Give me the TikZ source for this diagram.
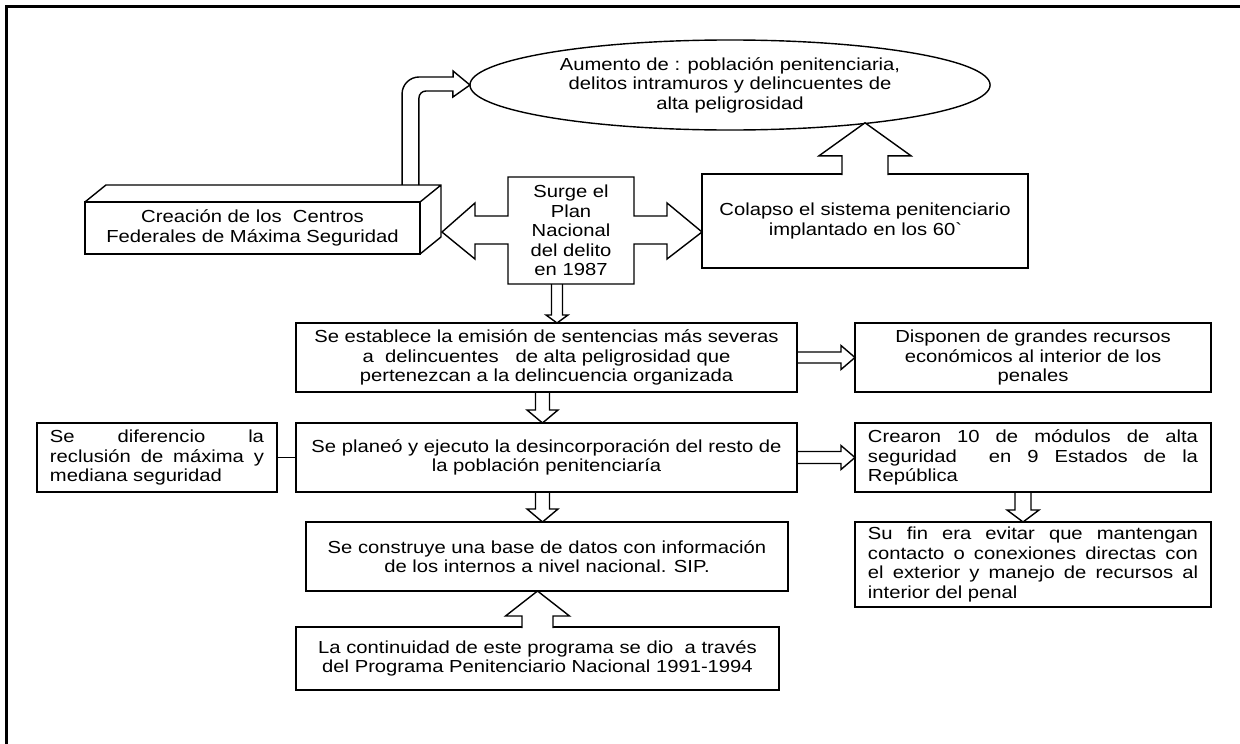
\documentclass[tikz,border=0pt]{standalone}
\usepackage{fontspec}
\setmainfont{Liberation Sans}[FakeStretch=1.16]
\usetikzlibrary{shapes.geometric, calc}

\begin{document}
\begin{tikzpicture}[
  x=0.025cm, y=-0.025cm, line width=1pt,
  box/.style={draw, font=\fontsize{12.4}{13.9}\selectfont, inner sep=2pt, outer sep=0pt, align=center},
  just/.style={box, align=justify, inner xsep=0.325cm},
  vblock/.style n args={3}{to path={
    ($(\tikztostart)+(-#1,0)$) -- ($(\tikztostart |- \tikztotarget)+(-#1,{-(#3)})$)
    -- ($(\tikztostart |- \tikztotarget)+(-#2,{-(#3)})$) -- (\tikztostart |- \tikztotarget)
    -- ($(\tikztostart |- \tikztotarget)+(#2,{-(#3)})$) -- ($(\tikztostart |- \tikztotarget)+(#1,{-(#3)})$)
    -- ($(\tikztostart)+(#1,0)$)}},
  hblock/.style n args={3}{to path={
    ($(\tikztostart)+(0,-#1)$) -- ($(\tikztostart -| \tikztotarget)+({-(#3)},-#1)$)
    -- ($(\tikztostart -| \tikztotarget)+({-(#3)},-#2)$) -- (\tikztostart -| \tikztotarget)
    -- ($(\tikztostart -| \tikztotarget)+({-(#3)},#2)$) -- ($(\tikztostart -| \tikztotarget)+({-(#3)},#1)$)
    -- ($(\tikztostart)+(0,#1)$)}},
]
\useasboundingbox (0,0) rectangle (1240,743);
\draw[line width=2.2pt] (6.5,760) -- (6.5,6.5) -- (1260,6.5);

% Top: ellipse, cuboid, plan and collapse
\node[box, ellipse, inner sep=0pt, minimum width=13cm, minimum height=2.25cm] (aumento) at (730,85)
{Aumento de : población penitenciaria,\\delitos intramuros y delincuentes de\\alta peligrosidad};

\node[box, minimum width=8.375cm, minimum height=1.3cm] (creacion) at (252.5,228)
{Creación de los\ \ Centros\\Federales de Máxima Seguridad};
\draw (creacion.north west) -- ++(21,-17) -- ++(335,0) -- ++(0,52) -- (creacion.south east)
  (creacion.north east) -- ++(21,-17);

\node[box, draw=none, minimum width=3.15cm, minimum height=2.675cm] (plan) at (571,230.5)
{Surge el\\Plan\\Nacional\\del delito\\en 1987};
\draw (plan.north west) -- (plan.north east) -- ++(0,39) -- ++(33,0) -- ++(0,-13) -- ++(35,29)
  -- ++(-35,27) -- ++(0,-15) -- ++(-33,0) -- (plan.south east) -- (plan.south west)
  -- ++(0,-40) -- ++(-33,0) -- ++(0,15) -- ++(-33,-27) -- ++(33,-29) -- ++(0,13) -- ++(33,0) -- cycle;

\node[box, minimum width=8.15cm, minimum height=2.35cm] (colapso) at (865,221)
{Colapso el sistema penitenciario\\implantado en los 60\textasciigrave};

% Bent arrow from the cuboid
\draw ($(creacion.north east)+(-18,-17)$) -- ++(0,-91) arc[start angle=180, end angle=270, radius=17]
  -- ++(34,0) -- ++(0,-6) -- (aumento.west) -- ++(-17,12) -- ++(0,-6) -- ++(-27,0)
  arc[start angle=270, end angle=180, radius=7] -- ++(0,87);

% Middle rows
\node[box, minimum width=12.525cm, minimum height=1.725cm] (establece) at (546.5,357.5)
{Se establece la emisión de sentencias más severas\\a\ \ delincuentes\ \ \ de alta peligrosidad que\\pertenezcan a la delincuencia organizada};
\node[box, minimum width=8.9cm, minimum height=1.725cm] (disponen) at (1033,357.5)
{Disponen de grandes recursos\\económicos al interior de los\\penales};

\node[just, text width=5.35cm, minimum height=1.725cm] (diferencio) at (157,457.5)
{Se diferencio la\linebreak reclusión de máxima y\linebreak mediana seguridad};
\node[box, minimum width=12.525cm, minimum height=1.725cm] (planeo) at (546.5,457.5)
{Se planeó y ejecuto la desincorporación del resto de\\la población penitenciaría};
\node[just, text width=8.25cm, minimum height=1.725cm] (crearon) at (1033,457.5)
{Crearon 10 de módulos de alta\linebreak seguridad\ \ en 9 Estados de la\linebreak República};

\node[box, minimum width=12.05cm, minimum height=1.725cm] (construye) at (547,556.5)
{Se construye una base de datos con información\\de los internos a nivel nacional. SIP.};
\node[just, text width=8.25cm, minimum height=2.125cm] (sufin) at (1033,564.5)
{Su fin era evitar que mantengan\linebreak contacto o conexiones directas con\linebreak el exterior y manejo de recursos al\linebreak interior del penal};

\node[box, minimum width=12.075cm, minimum height=1.575cm] (continuidad) at (537.5,658.5)
{La continuidad de este programa se dio\ \ a través\\del Programa Penitenciario Nacional 1991-1994};

% Block arrows
\draw ($(plan.south)+(-14,0)$) to[vblock={5.5}{11}{8}] (establece.north);
\draw ($(establece.south)+(-4,0)$) to[vblock={7}{15.5}{13}] (planeo.north);
\draw ($(planeo.south)+(-4,0)$) to[vblock={7}{15.5}{13}] (construye.north);
\draw ($(crearon.south)+(-10,0)$) to[vblock={8}{16}{12}] (sufin.north);
\draw (establece.east) to[hblock={5.5}{12}{14}] (disponen.west);
\draw (planeo.east) to[hblock={6}{12}{14}] (crearon.west);
\draw[fill=white] ([yshift=-0.8pt]colapso.north) to[vblock={23}{46}{-33}] (aumento.-15.9);
\draw[fill=white] ([yshift=-0.8pt]continuidad.north) to[vblock={15.5}{32}{-25}] (construye.south);

\draw[line width=1.4pt] (diferencio) -- (planeo);
\end{tikzpicture}
\end{document}
